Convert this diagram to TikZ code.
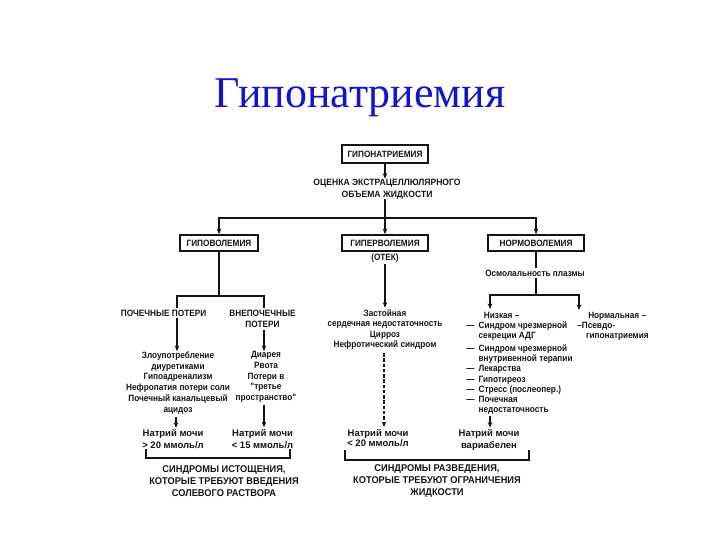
\documentclass[tikz,border=0pt]{standalone}
\usepackage{fontspec}
\setmainfont{Liberation Sans}
\newfontfamily\titlefont{Liberation Serif}
\newfontfamily\condA{Liberation Sans}[FakeStretch=0.9]
\newfontfamily\condB{Liberation Sans}[FakeStretch=0.94]
\usetikzlibrary{arrows.meta}
\definecolor{titleblue}{RGB}{20,20,205}
\definecolor{ink}{RGB}{20,20,20}
\begin{document}
\begin{tikzpicture}[x=0.02cm,y=-0.02cm,
  ln/.style={draw=ink, line width=0.8pt},
  arr/.style={draw=ink, line width=0.8pt,-{Stealth[length=3.2pt,width=2.6pt]}},
  txt/.style={font=\condA\fontsize{5.2}{6.1}\selectfont\bfseries, inner sep=0pt, align=center, text=ink},
  hdr/.style={draw=ink, line width=0.9pt, font=\condA\fontsize{5.2}{6}\selectfont\bfseries, inner sep=0pt, text=ink},
  big/.style={font=\condB\fontsize{5.6}{7}\selectfont\bfseries, inner sep=0pt, align=center, text=ink},
  nat/.style={font=\fontsize{5.4}{6.8}\selectfont\bfseries, inner sep=0pt, align=center, text=ink}]
\useasboundingbox (0,0) rectangle (720,540);

% title
\node[font=\titlefont\fontsize{25}{30}\selectfont, text=titleblue, inner sep=0pt] (title) at (360,98) {Гипонатриемия};

% top
\node[hdr, minimum width=86*0.02cm, minimum height=18*0.02cm] (top) at (385,154) {ГИПОНАТРИЕМИЯ};
\node[txt, font=\condB\fontsize{5.2}{6.6}\selectfont\bfseries] (ocenka) at (387,189) {ОЦЕНКА ЭКСТРАЦЕЛЛЮЛЯРНОГО\\ОБЪЕМА ЖИДКОСТИ};
\draw[arr] (top.south) -- (top.south |- ocenka.north);

% level 2 boxes
\node[hdr, minimum width=78*0.02cm, minimum height=16*0.02cm] (hypo) at (219,243) {ГИПОВОЛЕМИЯ};
\node[hdr, minimum width=86*0.02cm, minimum height=16*0.02cm] (hyper) at (385,243) {ГИПЕРВОЛЕМИЯ};
\node[hdr, minimum width=96*0.02cm, minimum height=16*0.02cm] (normo) at (536,243) {НОРМОВОЛЕМИЯ};
\coordinate (J) at (385,218);
\draw[arr] (hyper.north |- ocenka.south) -- (hyper.north);
\draw[arr] (J) -| (hypo.north);
\draw[arr] (J) -| (normo.north);

% hypovolemia branch
\node[txt] (renal) at (163.5,313) {ПОЧЕЧНЫЕ ПОТЕРИ};
\node[txt] (extra) at (262.5,319) {ВНЕПОЧЕЧНЫЕ\\ПОТЕРИ};
\coordinate (L) at (219,296);
\coordinate (rx) at (177,0);
\coordinate (ex) at (264,0);
\draw[ln] (hypo.south) -- (L);
\draw[ln] (L) -| ([yshift=1pt]renal.north -| rx);
\draw[ln] (L) -| ([yshift=1pt]extra.north -| ex);

\node[txt, font=\condA\fontsize{5.2}{6.2}\selectfont\bfseries] (leftlist) at (178,383) {Злоупотребление\\диуретиками\\Гипоадренализм\\Нефропатия потери соли\\Почечный канальцевый\\ацидоз};
\node[txt, font=\condA\fontsize{5.2}{6.1}\selectfont\bfseries] (rightlist) at (266,377) {Диарея\\Рвота\\Потери в\\"третье\\пространство"};
\draw[arr] ([yshift=-1pt]renal.south -| rx) -- (leftlist.north -| rx);
\draw[arr] ([yshift=-1pt]extra.south -| ex) -- (rightlist.north -| ex);

\node[nat] (na1) at (173,439.5) {Натрий мочи\\> 20 ммоль/л};
\node[nat] (na2) at (262.5,439) {Натрий мочи\\< 15 ммоль/л};
\coordinate (lx) at (176,0);
\draw[arr] ([yshift=-1pt]leftlist.south -| lx) -- ([yshift=1pt]na1.north -| lx);
\draw[arr] ([yshift=-1pt]rightlist.south -| ex) -- ([yshift=1pt]na2.north -| ex);

\coordinate (b1) at (146,449);
\coordinate (b2) at (146,458);
\coordinate (b3) at (290,458);
\coordinate (b4) at (290,449);
\draw[ln] (b1) -- (b2) -- (b3) -- (b4);
\node[big] (exh) at (224,481) {СИНДРОМЫ ИСТОЩЕНИЯ,\\КОТОРЫЕ ТРЕБУЮТ ВВЕДЕНИЯ\\СОЛЕВОГО РАСТВОРА};

% hypervolemia branch
\node[txt] (otek) at (385,258) {(ОТЕК)};
\node[txt, font=\condA\fontsize{5.2}{5.8}\selectfont\bfseries] (cong) at (385,329.5) {Застойная\\сердечная недостаточность\\Цирроз\\Нефротический синдром};
\draw[arr] ([yshift=-1pt]otek.south) -- ([yshift=1pt]cong.north);
\node[nat, font=\fontsize{5.4}{6}\selectfont\bfseries] (na3) at (378,438) {Натрий мочи\\< 20 ммоль/л};
\coordinate (dx) at (384,0);
\draw[arr, dash pattern=on 2pt off 1pt] ([yshift=-2pt]cong.south -| dx) -- ([yshift=1pt]na3.north -| dx);

\coordinate (c1) at (345,450);
\coordinate (c2) at (345,460);
\coordinate (c3) at (529,460);
\coordinate (c4) at (529,450);
\draw[ln] (c1) -- (c2) -- (c3) -- (c4);
\node[big] (dil) at (437,481) {СИНДРОМЫ РАЗВЕДЕНИЯ,\\КОТОРЫЕ ТРЕБУЮТ ОГРАНИЧЕНИЯ\\ЖИДКОСТИ};

% normovolemia branch
\node[txt] (osm) at (535,273) {Осмолальность плазмы};
\draw[ln] (normo.south) -- ([yshift=1pt]normo.south |- osm.north);
\coordinate (R) at (536,295);
\coordinate (lowtip) at (490,309);
\coordinate (normtip) at (579,310);
\draw[ln] ([yshift=-1pt]normo.south |- osm.south) -- (R);
\draw[arr] (R) -| (lowtip);
\draw[arr] (R) -| (normtip);

\node[txt, align=left, anchor=north west, font=\condA\fontsize{5.2}{5.75}\selectfont\bfseries] (low) at (466,312) {%
\hspace{10pt}Низкая –\\
\makebox[7pt][l]{—}Синдром чрезмерной\\
\hspace{7pt}секреции АДГ\\[1.6pt]
\makebox[7pt][l]{—}Синдром чрезмерной\\
\hspace{7pt}внутривенной терапии\\
\makebox[7pt][l]{—}Лекарства\\
\makebox[7pt][l]{—}Гипотиреоз\\
\makebox[7pt][l]{—}Стресс (послеопер.)\\
\makebox[7pt][l]{—}Почечная\\
\hspace{7pt}недостаточность};
\node[txt, align=left, anchor=north west, font=\condA\fontsize{5.2}{5.75}\selectfont\bfseries] (normal) at (577,312) {%
\hspace{6.2pt}Нормальная –\\
–Псевдо-\\
\hspace{5pt}гипонатриемия};

\node[nat, font=\fontsize{5.4}{6.4}\selectfont\bfseries] (na4) at (489,440) {Натрий мочи\\вариабелен};
\coordinate (vx) at (490,0);
\draw[arr] ([yshift=-1pt]low.south -| vx) -- ([yshift=1pt]na4.north -| vx);
\end{tikzpicture}
\end{document}
